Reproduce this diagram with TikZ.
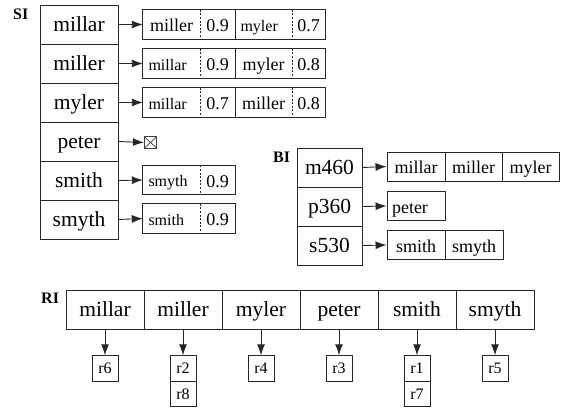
\documentclass[tikz,border=0pt]{standalone}
\usepackage{fontspec}
\setmainfont{Liberation Serif}
\usetikzlibrary{arrows.meta}
\newcommand{\fsz}[1]{\fontsize{#1}{#1}\selectfont}
\begin{document}
\begin{tikzpicture}[x=1pt,y=-1pt,
  ln/.style={draw=black!85, line width=0.9pt},
  keybox/.style={ln, minimum width=78pt, minimum height=39pt, inner sep=0pt, font=\fsz{21.5}, text height=14.5pt, text depth=0pt},
  bkey/.style={keybox, minimum width=65pt},
  cellbig/.style={minimum height=29pt, inner sep=0pt, font=\fsz{18}, text height=14pt, text depth=0pt},
  cellsmall/.style={minimum height=29pt, inner xsep=5.5pt, inner ysep=0pt, font=\fsz{16}, text height=13pt, text depth=0pt, align=left},
  rbox/.style={ln, minimum width=26pt, minimum height=25.5pt, inner sep=0pt, font=\fsz{16}, text height=10.5pt, text depth=0pt},
  lbl/.style={font=\fsz{16}\bfseries, anchor=base west, inner sep=0pt},
  link/.style={ln, -{Latex[length=11pt,width=8pt]}},
  sep/.style={ln},
  dsep/.style={ln, dash pattern=on 2pt off 1.6pt},
]
\useasboundingbox (0,0) rectangle (561,410);

% ---------------- SI ----------------
\node[lbl] (silbl) at (13,19) {SI};
\node[keybox] (s1) at (79,24.5) {millar};
\node[keybox] (s2) at (79,63.5) {miller};
\node[keybox] (s3) at (79,102.5) {myler};
\node[keybox] (s4) at (79,141.5) {peter};
\node[keybox] (s5) at (79,180.5) {smith};
\node[keybox] (s6) at (79,219.5) {smyth};

% row 1
\node[cellbig, minimum width=57pt] (a1) at (171.5,24.5) {miller};
\node[cellbig, minimum width=35pt] (a2) at (217.5,24.5) {0.9};
\node[cellsmall, text width=46pt] (a3) at (263.5,24.5) {myler};
\node[cellbig, minimum width=33pt] (a4) at (308.5,24.5) {0.7};
\draw[ln] (a1.north west) rectangle (a4.south east);
\draw[dsep] (a1.north east) -- (a1.south east);
\draw[sep] (a2.north east) -- (a2.south east);
\draw[dsep] (a3.north east) -- (a3.south east);
% row 2
\node[cellsmall, text width=46pt] (b1) at (171.5,63.5) {millar};
\node[cellbig, minimum width=35pt] (b2) at (217.5,63.5) {0.9};
\node[cellbig, minimum width=57pt] (b3) at (263.5,63.5) {myler};
\node[cellbig, minimum width=33pt] (b4) at (308.5,63.5) {0.8};
\draw[ln] (b1.north west) rectangle (b4.south east);
\draw[dsep] (b1.north east) -- (b1.south east);
\draw[sep] (b2.north east) -- (b2.south east);
\draw[dsep] (b3.north east) -- (b3.south east);
% row 3
\node[cellsmall, text width=46pt] (c1) at (171.5,102.5) {millar};
\node[cellbig, minimum width=35pt] (c2) at (217.5,102.5) {0.7};
\node[cellbig, minimum width=57pt] (c3) at (263.5,102.5) {miller};
\node[cellbig, minimum width=33pt] (c4) at (308.5,102.5) {0.8};
\draw[ln] (c1.north west) rectangle (c4.south east);
\draw[dsep] (c1.north east) -- (c1.south east);
\draw[sep] (c2.north east) -- (c2.south east);
\draw[dsep] (c3.north east) -- (c3.south east);
% row 4 : null
\node[draw=black!75, line width=0.7pt, minimum width=12.5pt, minimum height=11.5pt, inner sep=0pt,
  path picture={\draw[black!75, line width=0.7pt] (path picture bounding box.south west) -- (path picture bounding box.north east)
  (path picture bounding box.north west) -- (path picture bounding box.south east);}] (nul) at (150.5,142.5) {};
% row 5
\node[cellsmall, text width=46pt] (e1) at (171.5,180) {smyth};
\node[cellbig, minimum width=35pt] (e2) at (217.5,180) {0.9};
\draw[ln] (e1.north west) rectangle (e2.south east);
\draw[dsep] (e1.north east) -- (e1.south east);
% row 6
\node[cellsmall, text width=46pt] (f1) at (171.5,218.5) {smith};
\node[cellbig, minimum width=35pt] (f2) at (217.5,218.5) {0.9};
\draw[ln] (f1.north west) rectangle (f2.south east);
\draw[dsep] (f1.north east) -- (f1.south east);

\draw[link] (s1.east) -- (a1.west);
\draw[link] (s2.east) -- (b1.west);
\draw[link] (s3.east) -- (c1.west);
\draw[link] (s4.east) -- (nul.west);
\draw[link] (s5.east) -- (e1.west);
\draw[link] (s6.east) -- (f1.west);

% ---------------- BI ----------------
\node[lbl] (bilbl) at (273,162) {BI};
\node[bkey] (k1) at (329.5,167.5) {m460};
\node[bkey] (k2) at (329.5,206.5) {p360};
\node[bkey] (k3) at (329.5,245.5) {s530};

\node[cellbig, ln, minimum width=58pt] (g1) at (416,166.5) {millar};
\node[cellbig, ln, minimum width=57pt] (g2) at (473.5,166.5) {miller};
\node[cellbig, ln, minimum width=57pt] (g3) at (530.5,166.5) {myler};
\node[cellbig, ln, inner xsep=5pt, text width=48pt, align=left] (h1) at (416,206) {peter};
\node[cellbig, ln, minimum width=58pt] (i1) at (416,245) {smith};
\node[cellbig, ln, minimum width=58pt] (i2) at (474,245) {smyth};

\draw[link] (k1.east) -- (g1.west);
\draw[link] (k2.east) -- (h1.west);
\draw[link] (k3.east) -- (i1.west);

% ---------------- RI ----------------
\node[lbl] (rilbl) at (41,303) {RI};
\node[keybox] (r1) at (105,309.5) {millar};
\node[keybox] (r2) at (183,309.5) {miller};
\node[keybox] (r3) at (261,309.5) {myler};
\node[keybox] (r4) at (339,309.5) {peter};
\node[keybox] (r5) at (417,309.5) {smith};
\node[keybox] (r6) at (495,309.5) {smyth};

\node[rbox] (p1) at (105,368.5) {r6};
\node[rbox] (p2) at (183,368.5) {r2};
\node[rbox] (p2b) at (183,394) {r8};
\node[rbox] (p3) at (261,368.5) {r4};
\node[rbox] (p4) at (339,368.5) {r3};
\node[rbox] (p5) at (417,368.5) {r1};
\node[rbox] (p5b) at (417,394) {r7};
\node[rbox] (p6) at (495,368.5) {r5};

\foreach \a/\b in {r1/p1, r2/p2, r3/p3, r4/p4, r5/p5, r6/p6}
  \draw[link] (\a.south) -- (\b.north);
\end{tikzpicture}
\end{document}
